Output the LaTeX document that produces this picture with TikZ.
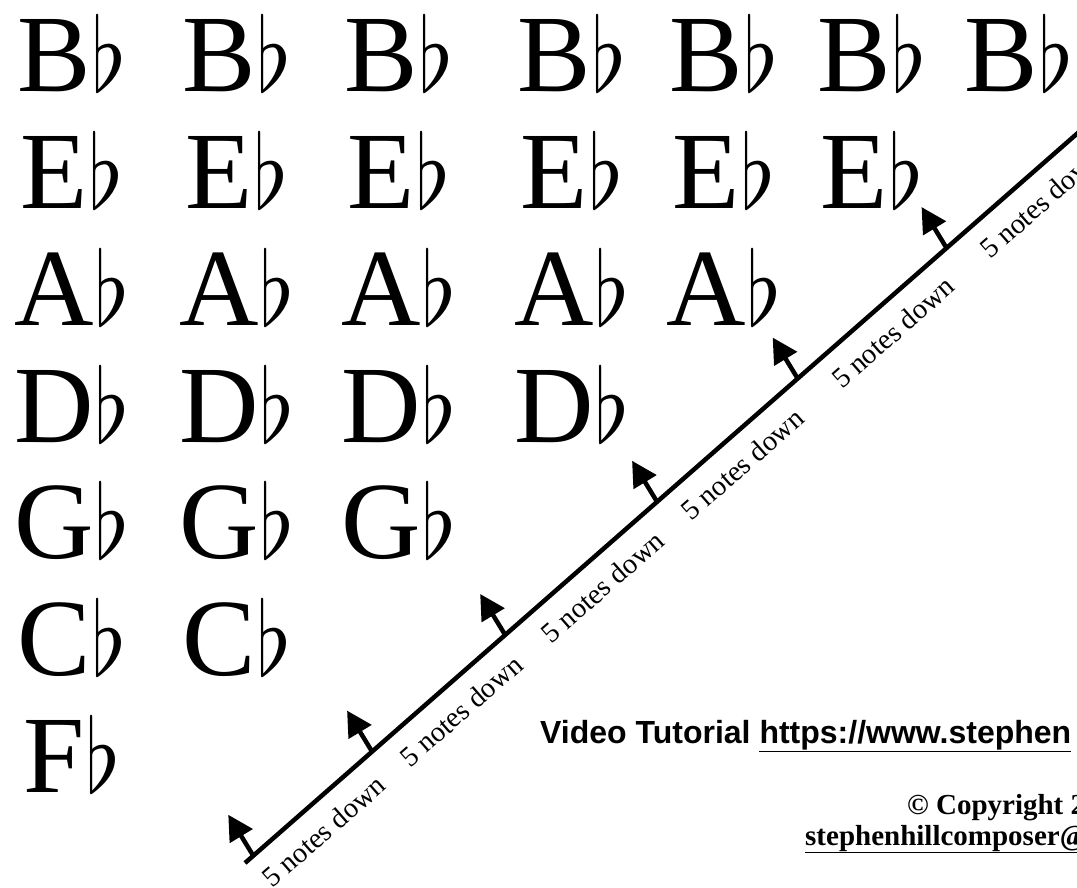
\documentclass[tikz,border=0pt]{standalone}
\usepackage{fontspec}
\setmainfont{Liberation Serif}
\setsansfont{Liberation Sans}
\usepackage{graphicx}
\usetikzlibrary{arrows.meta,calc}
\newcommand\flatsign{\scalebox{9}[10.3]{\normalsize$\flat$}}
\tikzset{
  % toner
  note/.style={font=\fontsize{110}{110}\selectfont,inner sep=0pt,anchor=base},
  % kvintlinjen
  fifthline/.style={draw=black,line width=4.5pt},
  push/.style={-{Triangle[length=25pt,width=26pt]},draw=black,line width=4.5pt},
  steplbl/.style={font=\fontsize{28.5}{28.5}\selectfont,rotate=41.2,inner sep=0pt},
  % text nere till höger
  credit/.style={font=\sffamily\bfseries\fontsize{32}{32}\selectfont,anchor=base west,inner sep=0pt},
  stamp/.style={font=\bfseries\fontsize{29}{29}\selectfont,anchor=base west,inner sep=0pt},
}
\begin{document}
\begin{tikzpicture}[x=1pt,y=-1pt]
  \useasboundingbox (0,0) rectangle (1077,887);
  \clip (0,0) rectangle (1077,887);

  \foreach \cx [count=\i] in {72,237,399,572,724,872,1019}
    \node[note] (Bb\i) at (\cx,91) {B\flatsign};
  \foreach \cx [count=\i] in {72,237,399,572,724,872}
    \node[note] (Eb\i) at (\cx,208) {E\flatsign};
  \foreach \cx [count=\i] in {72,237,399,572,724}
    \node[note] (Ab\i) at (\cx,325) {A\flatsign};
  \foreach \cx [count=\i] in {72,237,399,572}
    \node[note] (Db\i) at (\cx,442) {D\flatsign};
  \foreach \cx [count=\i] in {72,237,399}
    \node[note] (Gb\i) at (\cx,558) {G\flatsign};
  \foreach \cx [count=\i] in {72,237}
    \node[note] (Cb\i) at (\cx,675) {C\flatsign};
  \node[note] (Fb1) at (72,792) {F\flatsign};

  \coordinate (lo) at (245,863);
  \coordinate (hi) at (1120,96);
  \draw[fifthline] (lo) -- (hi);
  \foreach \p/\q [count=\k] in {11/80,169/263,346/451,548/637,735/837,933/1034}{
    \coordinate (foot\k) at ($(lo)!\p pt!(hi)$);
    \coordinate (tip\k) at ($(foot\k)+(-25,-41)$);
    \draw[push] (foot\k) -- (tip\k);
    \node[steplbl] (down\k) at ($(lo)!\q pt!(hi)+(18.5,21)$) {5 notes down};
  }

  \node[credit] (video) at (540,743) {Video Tutorial \underline{https://www.stephen}};
  \node[stamp] (copy) at (907,814) {© Copyright 2};
  \node[stamp] (mail) at (805,845) {\underline{stephenhillcomposer@}};
\end{tikzpicture}
\end{document}
